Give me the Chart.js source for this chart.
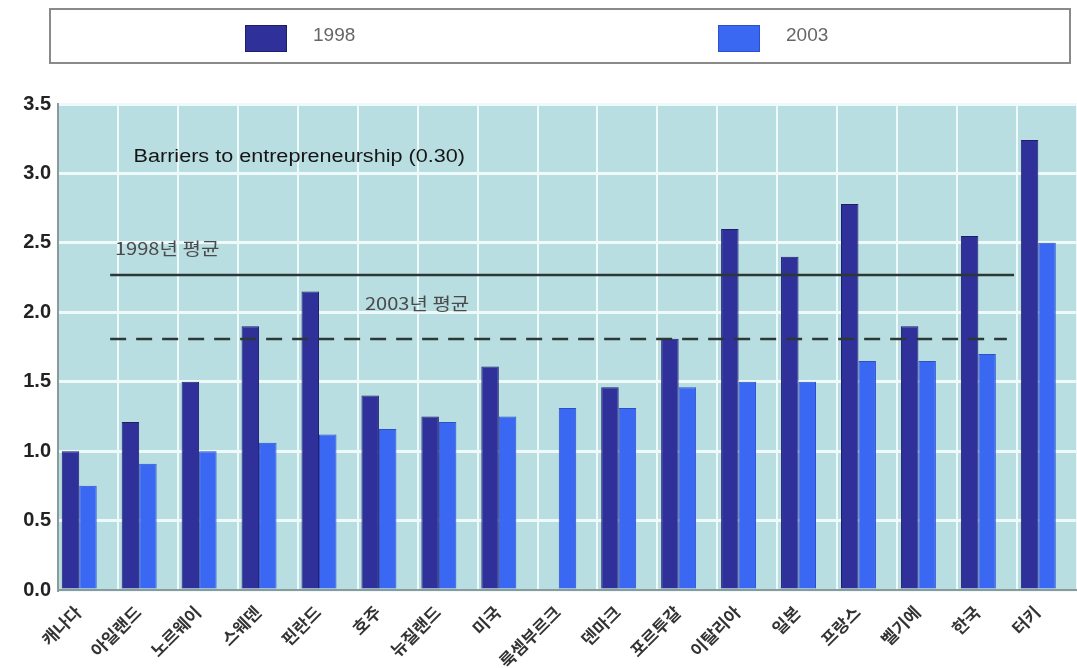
<!DOCTYPE html>
<html>
<head>
<meta charset="utf-8">
<script src="https://cdn.jsdelivr.net/npm/chart.js@4.4.1/dist/chart.umd.min.js"></script>
<style>
  html, body { margin: 0; padding: 0; background: #fff; overflow: hidden; }
  #wrap { width: 1077px; height: 668px; position: relative; }
</style>
</head>
<body>
<div id="wrap"><canvas id="chart"></canvas></div>
<script>
// data
const categories = ['캐나다', '아일랜드', '노르웨이', '스웨덴', '핀란드', '호주', '뉴질랜드', '미국', '룩셈부르크',
  '덴마크', '포르투갈', '이탈리아', '일본', '프랑스', '벨기에', '한국', '터키'];
const values1998 = [1.0, 1.21, 1.5, 1.9, 2.15, 1.4, 1.25, 1.61, null, 1.46, 1.81, 2.6, 2.4, 2.78, 1.9, 2.55, 3.24];
const values2003 = [0.75, 0.91, 1.0, 1.06, 1.12, 1.16, 1.21, 1.25, 1.31, 1.31, 1.46, 1.5, 1.5, 1.65, 1.65, 1.7, 2.5];
const seriesLabels = ['1998', '2003'];
const average1998 = 2.27;
const average2003 = 1.81;
const averageLabels = ['1998년 평균', '2003년 평균'];
const noteText = 'Barriers to entrepreneurship (0.30)';
const yTickValues = [0, 0.5, 1.0, 1.5, 2.0, 2.5, 3.0, 3.5];

const FONT = "'Liberation Sans', Arial, 'Noto Sans CJK KR', sans-serif";
const KFONT = "'Noto Sans CJK KR', 'Liberation Sans', sans-serif";
const colors = ['#30309a', '#3b68f2'];
const borders = ['#1e1e6a', '#2b50c8'];

// text a little stretched sideways, as in the scan
function wideText(ctx, txt, x, y, sx) {
  ctx.save();
  ctx.translate(x, y);
  ctx.scale(sx, 1);
  ctx.fillText(txt, 0, 0);
  ctx.restore();
}

// plot background
const plotBg = {
  id: 'plotBg',
  beforeDraw(chart) {
    const { ctx, chartArea: a } = chart;
    ctx.save();
    ctx.fillStyle = '#b9dee1';
    ctx.fillRect(a.left, a.top, a.right - a.left, a.bottom - a.top);
    ctx.restore();
  }
};

// legend box on top
const boxLegend = {
  id: 'boxLegend',
  afterDraw(chart) {
    const { ctx } = chart;
    ctx.save();
    ctx.strokeStyle = '#8a8a8a';
    ctx.lineWidth = 2;
    ctx.strokeRect(50, 9, 1020, 54);
    const xs = [245, 718];
    seriesLabels.forEach((lbl, i) => {
      ctx.fillStyle = colors[i];
      ctx.fillRect(xs[i], 25, 42, 27);
      ctx.strokeStyle = borders[i];
      ctx.lineWidth = 1;
      ctx.strokeRect(xs[i] + 0.5, 25.5, 41, 26);
      ctx.fillStyle = '#666';
      ctx.font = '19px ' + FONT;
      ctx.textBaseline = 'middle';
      ctx.fillText(lbl, xs[i] + 68, 36);
    });
    ctx.restore();
  }
};

// average lines and notes, placed with the chart's scales
const averages = {
  id: 'averages',
  afterDatasetsDraw(chart) {
    const { ctx, scales: { x, y } } = chart;
    ctx.save();
    ctx.strokeStyle = '#2c3838';
    ctx.lineWidth = 2.5;
    let py = Math.round(y.getPixelForValue(average1998));
    ctx.beginPath();
    ctx.moveTo(x.getPixelForValue(0.37), py);
    ctx.lineTo(x.getPixelForValue(15.45), py);
    ctx.stroke();

    py = Math.round(y.getPixelForValue(average2003));
    ctx.setLineDash([16, 10]);
    ctx.beginPath();
    ctx.moveTo(x.getPixelForValue(0.37), py);
    ctx.lineTo(x.getPixelForValue(15.33), py);
    ctx.stroke();
    ctx.setLineDash([]);

    ctx.textBaseline = 'middle';
    ctx.fillStyle = '#151515';
    ctx.font = '18px ' + FONT;
    wideText(ctx, noteText, x.getPixelForValue(0.76), y.getPixelForValue(3.12), 1.2);
    ctx.fillStyle = '#4a4a4a';
    ctx.font = '17px ' + KFONT;
    wideText(ctx, averageLabels[0], x.getPixelForValue(0.45), y.getPixelForValue(2.46), 1.18);
    wideText(ctx, averageLabels[1], x.getPixelForValue(4.62), y.getPixelForValue(2.06), 1.18);
    ctx.restore();
  }
};

new Chart(document.getElementById('chart'), {
  type: 'bar',
  data: {
    labels: categories,
    datasets: [
      { label: seriesLabels[0], data: values1998, backgroundColor: colors[0], borderColor: borders[0], borderWidth: 1 },
      { label: seriesLabels[1], data: values2003, backgroundColor: colors[1], borderColor: borders[1], borderWidth: 1 },
      // empty slot so the pair sits on the left side of each category, like the original
      { label: 'spacer', data: [], backgroundColor: 'rgba(0,0,0,0)' }
    ]
  },
  options: {
    responsive: true,
    maintainAspectRatio: false,
    animation: false,
    layout: { padding: { top: 104, left: 0, right: 0, bottom: 0 } },
    datasets: { bar: { categoryPercentage: 0.875, barPercentage: 1.0 } },
    plugins: {
      legend: { display: false },
      tooltip: { enabled: false }
    },
    scales: {
      x: {
        offset: true,
        grid: { color: '#eef9fa', lineWidth: 2, offset: true, drawTicks: false },
        border: { color: '#8c9a9c', width: 2 },
        ticks: {
          maxRotation: 45, minRotation: 45, padding: 12, labelOffset: -10, autoSkip: false,
          color: '#333', font: { family: KFONT, size: 17, weight: 'bold' }
        },
        afterFit(s) { s.height = 78; }
      },
      y: {
        min: 0, max: 3.5,
        afterBuildTicks(s) { s.ticks = yTickValues.map(v => ({ value: v })); },
        grid: { color: '#eef9fa', lineWidth: 3, drawTicks: false },
        border: { color: '#8c9a9c', width: 2 },
        ticks: {
          padding: 7, color: '#222',
          font: { family: FONT, size: 20, weight: 'bold' },
          callback: v => Number(v).toFixed(1)
        },
        afterFit(s) { s.width = 58; }
      }
    }
  },
  plugins: [plotBg, averages, boxLegend]
});
</script>
</body>
</html>
